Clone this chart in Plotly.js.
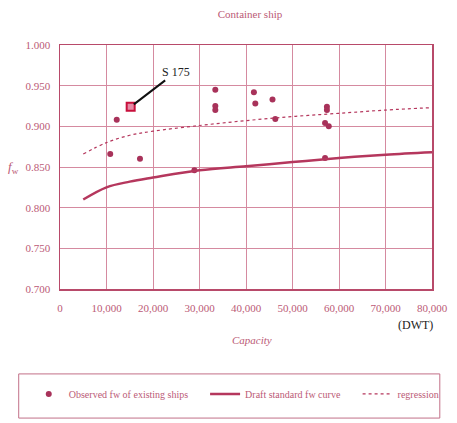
<!DOCTYPE html>
<html><head><meta charset="utf-8">
<script src="https://cdn.plot.ly/plotly-3.0.1.min.js"></script>
<style>body{margin:0;background:#fff}#c{width:457px;height:423px}</style>
</head><body><div id="c"></div>
<script>
// Observed fw of existing ships
var obsX = [12200, 10800, 17200, 28900, 33400, 33400, 33400, 41700, 42000, 45700, 46300, 57400, 57400, 57000, 57800, 57000];
var obsY = [0.908, 0.866, 0.860, 0.846, 0.945, 0.925, 0.920, 0.942, 0.928, 0.933, 0.909, 0.924, 0.920, 0.904, 0.900, 0.861];
// Highlighted ship S 175
var s175X = [15200];
var s175Y = [0.924];
// Draft standard fw curve
var stdX = [5000, 10000, 15000, 20000, 30000, 40000, 50000, 60000, 70000, 80000];
var stdY = [0.810, 0.825, 0.832, 0.837, 0.846, 0.851, 0.856, 0.861, 0.865, 0.868];
// Regression
var regX = [5000, 10000, 15000, 20000, 30000, 40000, 50000, 60000, 70000, 80000];
var regY = [0.866, 0.880, 0.889, 0.894, 0.901, 0.907, 0.912, 0.916, 0.920, 0.923];
var xTicks = [0, 10000, 20000, 30000, 40000, 50000, 60000, 70000, 80000];
var yTicks = [0.700, 0.750, 0.800, 0.850, 0.900, 0.950, 1.000];

var txt = '#bb5a76', lineC = '#b5375d', mk = '#a8325a', grid = '#d58aa0';
var F = 'Liberation Serif, Times New Roman, serif';

var traces = [
  {x: obsX, y: obsY, mode: 'markers', type: 'scatter', name: 'Observed fw of existing ships',
   marker: {color: mk, size: 6}, legend: 'legend'},
  {x: stdX, y: stdY, mode: 'lines', type: 'scatter', name: 'Draft standard fw curve',
   line: {color: lineC, width: 2.5, shape: 'spline'}, legend: 'legend2'},
  {x: regX, y: regY, mode: 'lines', type: 'scatter', name: 'regression',
   line: {color: lineC, width: 1.2, dash: 'dot', shape: 'spline'}, legend: 'legend3'},
  {x: s175X, y: s175Y, mode: 'markers', type: 'scatter', showlegend: false,
   marker: {color: '#e58aa5', size: 8, symbol: 'square', line: {color: '#c8103c', width: 2}}}
];

var legBase = {orientation: 'h', yanchor: 'middle', xanchor: 'left', y: -0.43,
  bgcolor: 'rgba(0,0,0,0)', font: {family: F, size: 10, color: txt}};

var layout = {
  width: 457, height: 423,
  margin: {l: 60, r: 18, t: 45, b: 134},
  paper_bgcolor: '#fff', plot_bgcolor: '#fff',
  font: {family: F, color: txt, size: 11},
  title: {text: 'Container ship', x: 0.547, xanchor: 'center', y: 0.967, yanchor: 'middle', font: {family: F, size: 11, color: txt}},
  xaxis: {range: [0, 80000], tickvals: xTicks, tickformat: ',', showgrid: true, gridcolor: grid, gridwidth: 1,
    showline: true, linecolor: '#b84a6a', linewidth: 1.5, mirror: true, zeroline: false, ticks: '',
    ticklabelstandoff: 8, tickfont: {family: F, size: 11, color: txt}},
  yaxis: {range: [0.7, 1.0], tickvals: yTicks, tickformat: '.3f', showgrid: true, gridcolor: grid, gridwidth: 1,
    showline: true, linecolor: '#b84a6a', linewidth: 1.5, mirror: true, zeroline: false, ticks: '',
    ticklabelstandoff: 6, tickfont: {family: F, size: 11, color: txt}},
  showlegend: true,
  legend: Object.assign({}, legBase, {x: -0.084}),
  legend2: Object.assign({}, legBase, {x: 0.39}),
  legend3: Object.assign({}, legBase, {x: 0.80}),
  shapes: [{type: 'rect', xref: 'paper', yref: 'paper', x0: -0.111, x1: 1.021, y0: -0.529, y1: -0.348,
    line: {color: '#c27088', width: 1}}],
  annotations: [
    {x: s175X[0], y: s175Y[0], xref: 'x', yref: 'y', ax: 25000, ay: 0.967, axref: 'x', ayref: 'y',
     text: 'S 175', showarrow: true, arrowhead: 0, arrowwidth: 2, arrowcolor: '#111', standoff: 4,
     font: {family: F, size: 12, color: '#222'}},
    {x: 0.515, y: -0.209, xref: 'paper', yref: 'paper', xanchor: 'center', yanchor: 'middle', text: '<i>Capacity</i>', showarrow: false,
     font: {family: F, size: 11, color: txt}},
    {x: 0.955, y: -0.148, xref: 'paper', yref: 'paper', xanchor: 'center', yanchor: 'middle', text: '(DWT)', showarrow: false,
     font: {family: F, size: 12, color: '#222'}},
    {x: -0.125, y: 0.5, xref: 'paper', yref: 'paper', xanchor: 'center', yanchor: 'middle', text: '<i>f</i><sub>w</sub>', showarrow: false,
     font: {family: F, size: 13, color: txt}}
  ]
};
Plotly.newPlot('c', traces, layout, {displayModeBar: false, staticPlot: true});
</script></body></html>
